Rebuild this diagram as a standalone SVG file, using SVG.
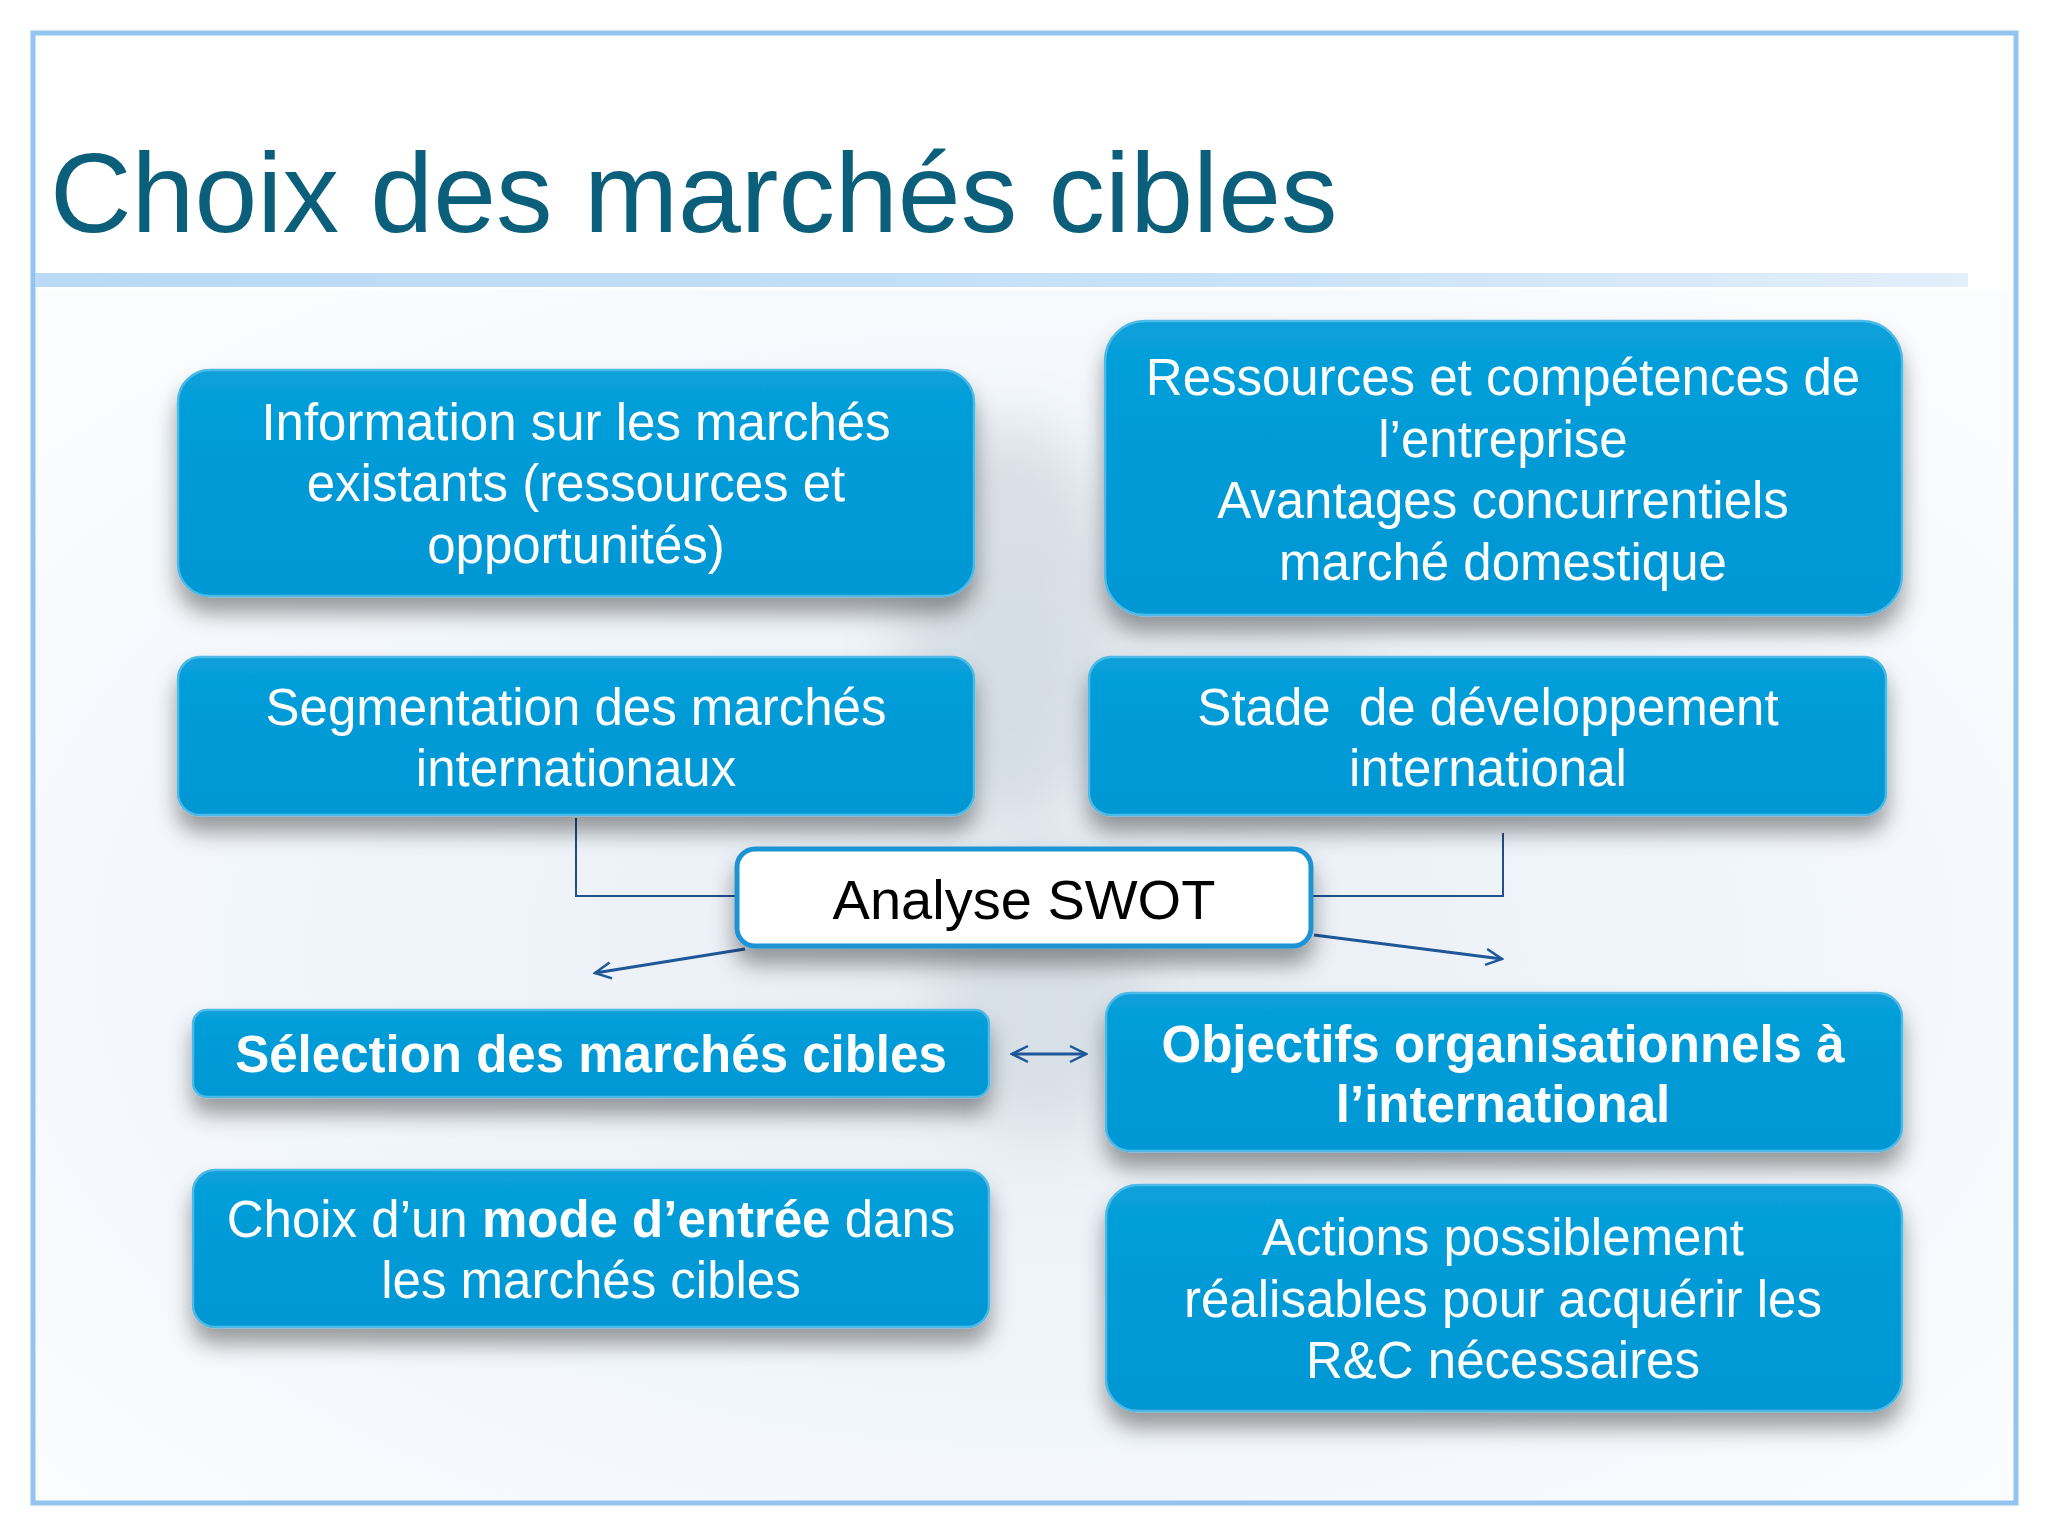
<svg xmlns="http://www.w3.org/2000/svg" width="2048" height="1536" viewBox="0 0 2048 1536">
  <style>
    .box { fill: url(#boxGrad); stroke: #4fb9e6; stroke-width: 2.5; filter: url(#shadow); }
    .t { font-family: "Liberation Sans", Arial, sans-serif; font-size: 51px; fill: #ffffff; text-anchor: middle; }
    .b { font-weight: bold; }
    .conn { fill: none; stroke: #1f4f8f; stroke-width: 2; }
    .arr { fill: none; stroke: #1f5798; stroke-width: 3; }
  </style>
  <defs>
    <linearGradient id="boxGrad" x1="0" y1="0" x2="0" y2="1">
      <stop offset="0" stop-color="#08a0da"/>
      <stop offset="0.5" stop-color="#009ad6"/>
      <stop offset="1" stop-color="#0098d4"/>
    </linearGradient>
    <linearGradient id="bar" x1="0" y1="0" x2="1" y2="0">
      <stop offset="0" stop-color="#b9d9f5"/>
      <stop offset="0.6" stop-color="#c7e1f8"/>
      <stop offset="1" stop-color="#e3effb"/>
    </linearGradient>
    <radialGradient id="bg" cx="0.5" cy="0.55" r="0.65">
      <stop offset="0" stop-color="#e6edf3"/>
      <stop offset="0.5" stop-color="#f0f5fa"/>
      <stop offset="1" stop-color="#fafcfe"/>
    </radialGradient>
    <filter id="shadow" x="-10%" y="-20%" width="120%" height="170%">
      <feDropShadow dx="0" dy="16" stdDeviation="11" flood-color="#000000" flood-opacity="0.38"/>
    </filter>
    <filter id="blur" x="-50%" y="-50%" width="200%" height="200%">
      <feGaussianBlur stdDeviation="30"/>
    </filter>
    <marker id="open" viewBox="0 0 20 20" refX="18" refY="10" markerWidth="20" markerHeight="20" markerUnits="userSpaceOnUse" orient="auto-start-reverse">
      <path d="M2,2 L18,10 L2,18" fill="none" stroke="#1f5798" stroke-width="2.5"/>
    </marker>
  </defs>

  <!-- page -->
  <rect x="0" y="0" width="2048" height="1536" fill="#ffffff"/>
  <rect x="33" y="290" width="1983" height="1213" fill="url(#bg)"/>
  <g filter="url(#blur)" opacity="0.45">
    <ellipse cx="1010" cy="620" rx="110" ry="200" fill="#b9c4cf"/>
    <ellipse cx="1040" cy="990" rx="100" ry="150" fill="#c4ced8"/>
    <ellipse cx="1240" cy="720" rx="160" ry="90" fill="#cdd6df"/>
  </g>
  <rect x="33" y="33" width="1983" height="257" fill="#ffffff"/>
  <rect x="33" y="33" width="1983" height="1470" fill="none" stroke="#93c3ef" stroke-width="5"/>
  <rect x="35" y="273" width="1933" height="14" fill="url(#bar)"/>

  <g id="title">
    <text x="50" y="232" font-family="'Liberation Sans', Arial, sans-serif" font-size="113" fill="#0b5f7a">Choix des marchés cibles</text>
  </g>

  <g id="connectors">
    <polyline class="conn" points="576,818 576,896 735,896"/>
    <polyline class="conn" points="1503,833 1503,896 1311,896"/>
    <line class="arr" x1="745" y1="949" x2="595" y2="973" marker-end="url(#open)"/>
    <line class="arr" x1="1314" y1="935" x2="1502" y2="959" marker-end="url(#open)"/>
    <line class="arr" x1="1012" y1="1054" x2="1086" y2="1054" marker-start="url(#open)" marker-end="url(#open)" stroke-width="2.5"/>
  </g>

  <g id="info">
    <rect class="box" x="178" y="370" width="796" height="226" rx="32"/>
    <text class="t" x="576" y="440">Information sur les marchés</text>
    <text class="t" x="576" y="501">existants (ressources et</text>
    <text class="t" x="576" y="563">opportunités)</text>
  </g>

  <g id="ressources">
    <rect class="box" x="1105" y="321" width="797" height="294" rx="40"/>
    <text class="t" x="1503" y="395">Ressources et compétences de</text>
    <text class="t" x="1503" y="457">l’entreprise</text>
    <text class="t" x="1503" y="518">Avantages concurrentiels</text>
    <text class="t" x="1503" y="580">marché domestique</text>
  </g>

  <g id="segmentation">
    <rect class="box" x="178" y="657" width="796" height="158" rx="22"/>
    <text class="t" x="576" y="725">Segmentation des marchés</text>
    <text class="t" x="576" y="786">internationaux</text>
  </g>

  <g id="stade">
    <rect class="box" x="1089" y="657" width="797" height="158" rx="22"/>
    <text class="t" x="1488" y="725" xml:space="preserve">Stade  de développement</text>
    <text class="t" x="1488" y="786">international</text>
  </g>

  <g id="swot">
    <rect x="737" y="849" width="574" height="97" rx="18" fill="#ffffff" stroke="#1b93d3" stroke-width="5" filter="url(#shadow)"/>
    <text x="1024" y="919" font-family="'Liberation Sans', Arial, sans-serif" font-size="56" fill="#000000" text-anchor="middle">Analyse SWOT</text>
  </g>

  <g id="selection">
    <rect class="box" x="193" y="1010" width="796" height="87" rx="14"/>
    <text class="t b" x="591" y="1072">Sélection des marchés cibles</text>
  </g>

  <g id="objectifs">
    <rect class="box" x="1106" y="993" width="796" height="158" rx="24"/>
    <text class="t b" x="1503" y="1062">Objectifs organisationnels à</text>
    <text class="t b" x="1503" y="1122">l’international</text>
  </g>

  <g id="choix">
    <rect class="box" x="193" y="1170" width="796" height="157" rx="22"/>
    <text class="t" x="591" y="1237">Choix d’un <tspan class="b">mode d’entrée</tspan> dans</text>
    <text class="t" x="591" y="1298">les marchés cibles</text>
  </g>

  <g id="actions">
    <rect class="box" x="1106" y="1185" width="796" height="226" rx="32"/>
    <text class="t" x="1503" y="1255">Actions possiblement</text>
    <text class="t" x="1503" y="1317">réalisables pour acquérir les</text>
    <text class="t" x="1503" y="1378">R&amp;C nécessaires</text>
  </g>
</svg>
